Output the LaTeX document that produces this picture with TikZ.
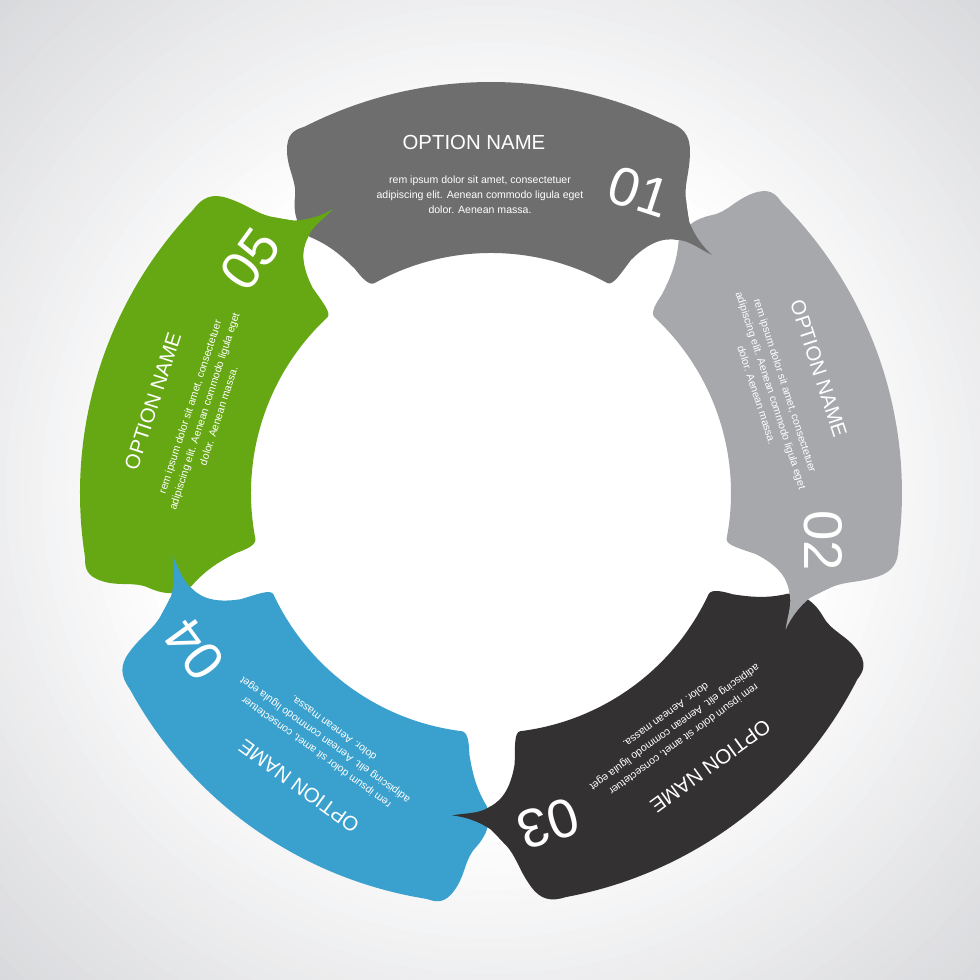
\documentclass[tikz,border=0pt]{standalone}
\usepackage{fontspec}
\setmainfont{Liberation Sans}
\usepackage{xcolor}
\usepackage{tikz}
\definecolor{optgray}{HTML}{6E6E6F}
\definecolor{optsilver}{HTML}{A7A8AB}
\definecolor{optcoal}{HTML}{343132}
\definecolor{optblue}{HTML}{3AA0CD}
\definecolor{optgreen}{HTML}{66A814}
\definecolor{paperedge}{HTML}{D8D9DC}
\tikzstyle{title}=[text=white,font=\fontsize{5.8}{7}\selectfont,inner sep=0pt]
\tikzstyle{blurb}=[text=white,align=center,font=\fontsize{3}{4.27}\selectfont,inner sep=0pt]
\tikzstyle{num}=[text=white,font=\fontsize{15.5}{18}\selectfont,inner sep=0pt]

\begin{document}
\begin{tikzpicture}
        \useasboundingbox (-4.91,-4.87) rectangle (4.89,4.93);
        \begin{scope}
          \clip (-4.91,-4.87) rectangle (4.89,4.93);
          % soft grey paper, white in the middle
          \foreach \k [evaluate=\k as \blend using 100-100*\k/30,
                       evaluate=\k as \rad using 7.0-3.6*\k/30] in {0,...,30}
            \fill[paperedge!\blend!white] (-0.01,0.03) circle (\rad);
        \end{scope}

        % bodies
        \foreach \ang/\col in {0/optgray,-72/optsilver,-144/optcoal,-216/optblue,-288/optgreen}{
          \begin{scope}[rotate=\ang]
            \fill[\col] (117:4.11) arc[start angle=117, end angle=64.5, radius=4.11]
              .. controls (1.92,3.66) and (1.99,3.58) .. (1.99,3.42)
              .. controls (1.99,3.20) and (1.93,3.10) .. (1.95,2.93)
              .. controls (1.96,2.84) and (1.97,2.78) .. (1.98,2.72)
              -- (1.86,2.53)
              .. controls (1.70,2.56) and (1.55,2.48) .. (1.40,2.33)
              .. controls (1.30,2.20) and (1.22,2.07) .. (61:2.40)
              arc[start angle=61, end angle=119, radius=2.40]
              .. controls (-1.22,2.07) and (-1.29,2.15) .. (-1.36,2.24)
              .. controls (-1.50,2.38) and (-1.62,2.48) .. (-1.81,2.56)
              .. controls (-1.93,2.64) and (-1.98,2.78) .. (-1.96,2.96)
              .. controls (-1.94,3.12) and (-2.04,3.24) .. (-2.04,3.43)
              .. controls (-2.04,3.58) and (-1.98,3.63) .. (117:4.11) -- cycle;
          \end{scope}
        }

        % tails and texts
        \foreach \i/\ang/\col in {1/0/optgray,2/-72/optsilver,3/-144/optcoal,4/-216/optblue,5/-288/optgreen}{
          \begin{scope}[rotate=\ang,transform shape]
            \fill[\col] (1.95,2.93) .. controls (1.96,2.84) and (1.97,2.78) .. (1.98,2.72)
              .. controls (2.03,2.58) and (2.12,2.46) .. (2.21,2.38)
              .. controls (2.10,2.43) and (1.98,2.53) .. (1.86,2.53)
              -- (1.65,2.75) -- cycle;
            \node[title] (title\i) at (-0.17,3.50) {OPTION NAME};
            \node[blurb] (blurb\i) at (-0.11,2.98) {rem ipsum dolor sit amet, consectetuer\\adipiscing elit. Aenean commodo ligula eget\\dolor. Aenean massa.};
            \node[num,rotate=-18] (num\i) at (1.48,3.01) {0\i};
          \end{scope}
        }
      \end{tikzpicture}
\end{document}
